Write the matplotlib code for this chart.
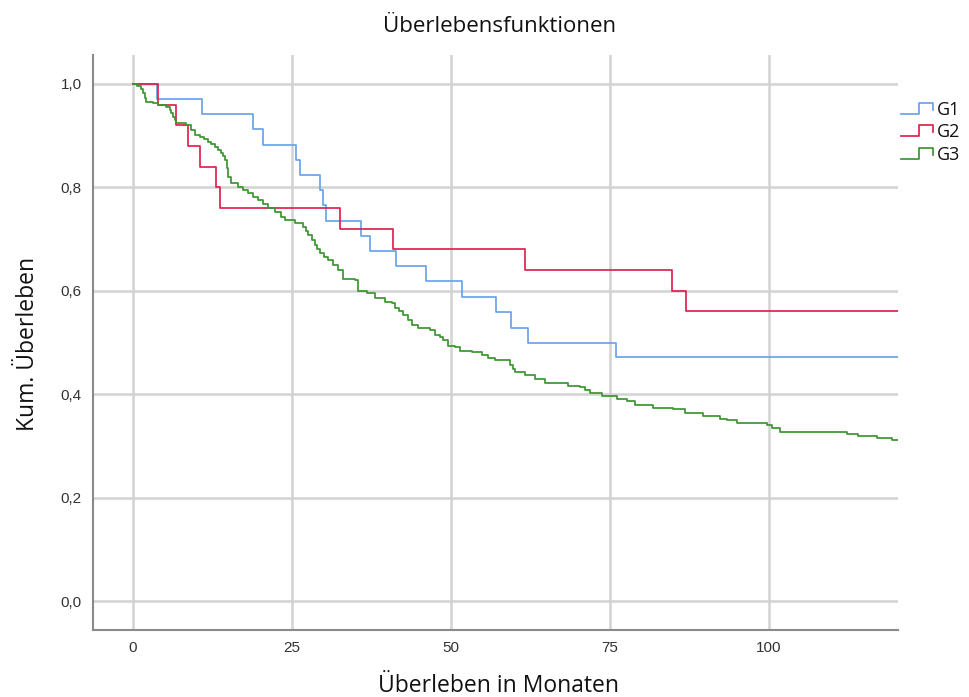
import numpy as np
import matplotlib
matplotlib.use("Agg")
import matplotlib.pyplot as plt
from matplotlib.legend_handler import HandlerBase
from matplotlib.lines import Line2D

# ---- data ----
followup_end = 121.0

g1_time = [0, 3.7, 10.8, 18.9, 20.4, 25.7, 26.2, 29.4, 29.9, 30.4, 35.8, 37.3,
           41.4, 46.0, 51.8, 57.0, 59.5, 62.1, 75.9]
g1_surv = [1.000, 0.971, 0.941, 0.912, 0.882, 0.853, 0.824, 0.794, 0.765, 0.735,
           0.706, 0.676, 0.647, 0.618, 0.588, 0.559, 0.529, 0.500, 0.471]

g2_time = [0, 3.9, 6.7, 8.6, 10.6, 13.0, 13.6, 32.6, 40.9, 61.6, 84.8, 87.0]
g2_surv = [1.00, 0.96, 0.92, 0.88, 0.84, 0.80, 0.76, 0.72, 0.68, 0.64, 0.60, 0.56]

g3_time = [0, 0.6, 1.3, 1.6, 1.84, 2.09, 3.14, 3.93, 5.24, 5.77, 6.0, 6.29, 6.55,
           6.81, 8.38, 9.17, 9.70, 10.49, 11.2, 11.79, 12.3, 12.85, 13.4, 13.88,
           14.2, 14.51, 14.7, 14.94, 15.46, 16.51, 17.3, 18.08, 18.9, 19.65,
           20.4, 21.23, 22.3, 23.32, 23.90, 25.47, 26.78, 27.2, 27.56, 28.1,
           28.62, 29.0, 29.40, 30.1, 30.71, 31.5, 32.28, 33.07, 34.91, 35.42,
           36.75, 38.05, 39.62, 40.68, 41.19, 41.9, 42.50, 43.2, 43.82, 44.86,
           46.70, 47.48, 48.2, 48.79, 49.58, 50.63, 51.42, 53.25, 54.83, 55.86,
           56.92, 59.28, 59.7, 60.06, 61.64, 63.21, 64.78, 68.44, 70.28, 71.07,
           71.86, 73.69, 76.05, 77.63, 78.93, 81.81, 84.95, 86.79, 89.67, 92.30,
           93.35, 94.92, 99.64, 100.42, 101.73, 112.22, 114.04, 116.93, 119.29]
g3_surv = [1.000, 0.997, 0.991, 0.982, 0.972, 0.966, 0.963, 0.959, 0.956, 0.950,
           0.944, 0.937, 0.931, 0.924, 0.921, 0.911, 0.901, 0.898, 0.893, 0.888,
           0.884, 0.879, 0.873, 0.866, 0.860, 0.853, 0.837, 0.821, 0.808, 0.801,
           0.795, 0.789, 0.782, 0.776, 0.768, 0.760, 0.752, 0.743, 0.737, 0.731,
           0.724, 0.716, 0.708, 0.698, 0.689, 0.681, 0.673, 0.666, 0.660, 0.650,
           0.640, 0.623, 0.621, 0.600, 0.595, 0.586, 0.579, 0.576, 0.566, 0.560,
           0.553, 0.543, 0.534, 0.529, 0.524, 0.515, 0.510, 0.505, 0.494, 0.492,
           0.484, 0.481, 0.476, 0.470, 0.466, 0.456, 0.449, 0.442, 0.437, 0.429,
           0.422, 0.416, 0.413, 0.408, 0.402, 0.397, 0.390, 0.386, 0.379, 0.374,
           0.371, 0.363, 0.358, 0.353, 0.350, 0.345, 0.340, 0.334, 0.327, 0.324,
           0.319, 0.315, 0.311]

groups = ["G1", "G2", "G3"]
x_ticks = [0, 25, 50, 75, 100]
y_ticks = [0.0, 0.2, 0.4, 0.6, 0.8, 1.0]
y_tick_labels = ["0,0", "0,2", "0,4", "0,6", "0,8", "1,0"]

colors = ["#6aa3ea", "#e0204f", "#3a9630"]

plt.rcParams['font.family'] = ['Open Sans', 'DejaVu Sans']

fig = plt.figure(figsize=(9.69, 6.97), dpi=100)
ax = fig.add_axes([93/969, 1 - 630/697, (898 - 93)/969, (630 - 55)/697])

for name, t, s, c in zip(groups, [g1_time, g2_time, g3_time],
                         [g1_surv, g2_surv, g3_surv], colors):
    tt = np.append(t, followup_end)
    ss = np.append(s, s[-1])
    ax.step(tt, ss, where="post", color=c, lw=1.25, label=name, zorder=3)

ax.set_xlim(-6.3, 120.3)
ax.set_ylim(-0.056, 1.056)
ax.set_xticks(x_ticks)
ax.set_xticklabels([str(v) for v in x_ticks])
ax.set_yticks(y_ticks)
ax.set_yticklabels(y_tick_labels)
ax.tick_params(length=0, labelsize=11, colors="#333333", pad=8)
for lab in ax.get_xticklabels() + ax.get_yticklabels():
    lab.set_family(['Liberation Sans', 'DejaVu Sans'])

ax.grid(True, color="#d2d2d2", lw=1.8, zorder=0)
for side in ["top", "right"]:
    ax.spines[side].set_visible(False)
for side in ["left", "bottom"]:
    ax.spines[side].set_color("#8a8a8a")
    ax.spines[side].set_linewidth(1.5)

fig.text(500/969, 1 - 27/697, "Überlebensfunktionen", ha="center", va="center",
         fontsize=16, color="#111111")
fig.text(499/969, 1 - 686/697, "Überleben in Monaten", ha="center", va="center",
         fontsize=16.5, color="#111111")
fig.text(28/969, 1 - 344/697, "Kum. Überleben", ha="center", va="center",
         rotation=90, fontsize=16.5, color="#111111")


class StepHandler(HandlerBase):
    def create_artists(self, legend, orig_handle, xdescent, ydescent, width,
                       height, fontsize, trans):
        x0 = -xdescent
        y0 = -ydescent + height * 0.1
        y1 = -ydescent + height * 0.95
        xs = [x0, x0 + width * 0.55, x0 + width * 0.55, x0 + width, x0 + width]
        ys = [y0, y0, y1, y1, y0 + height * 0.3]
        ln = Line2D(xs, ys, color=orig_handle.get_color(), lw=1.25,
                    transform=trans)
        return [ln]


handles, labels = ax.get_legend_handles_labels()
leg = fig.legend(handles, labels, loc="upper left",
                 bbox_to_anchor=(899/969, 1 - 99/697),
                 handler_map={Line2D: StepHandler()},
                 frameon=False, fontsize=13, handlelength=1.8,
                 handletextpad=0.2, labelspacing=0.25, borderpad=0.1,
                 borderaxespad=0)
for txt in leg.get_texts():
    txt.set_color("#111111")

fig.savefig("out.png", dpi=100)
